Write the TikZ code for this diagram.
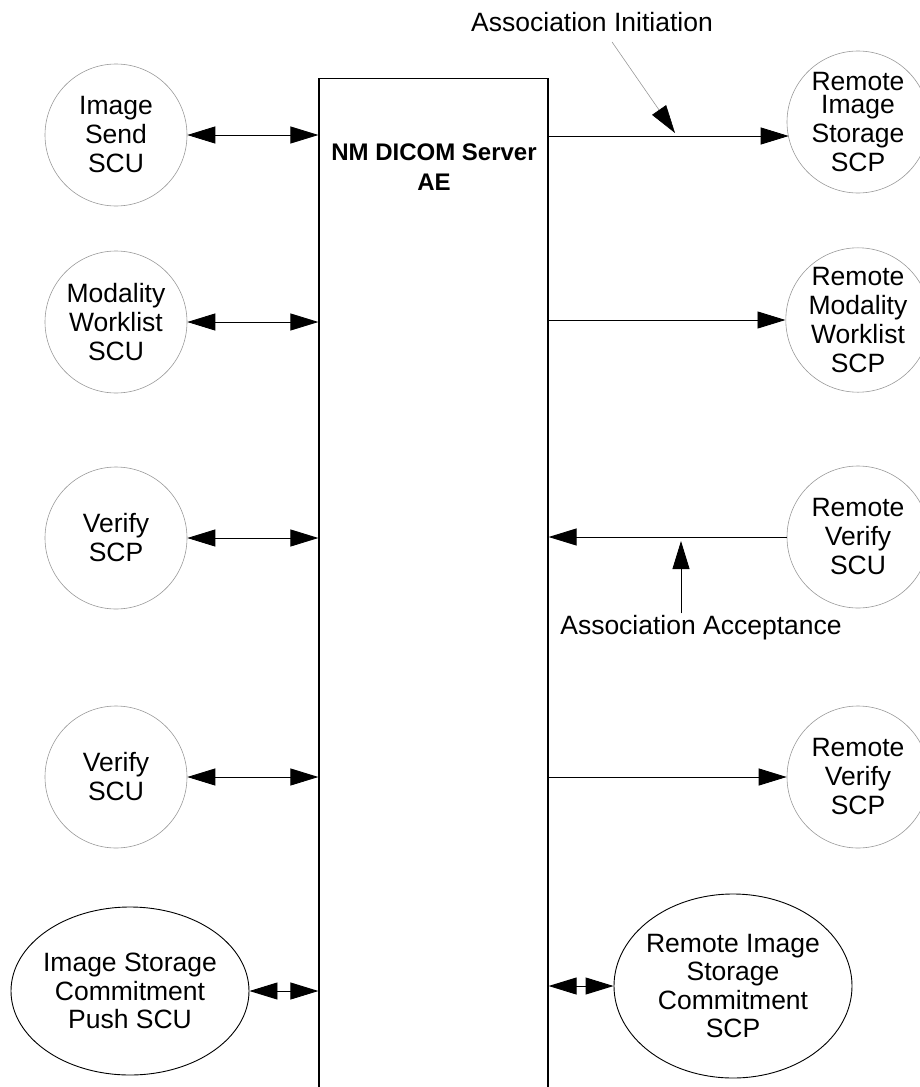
\documentclass[tikz,border=0pt]{standalone}
\usepackage{fontspec}
\setmainfont{Liberation Sans}
\usetikzlibrary{calc, shapes.geometric, arrows.meta}

\begin{document}
\begin{tikzpicture}[x=1pt, y=-1pt]

    \tikzstyle{ae}=[circle, draw=black!40, line width=0.6pt, minimum size=142pt, inner sep=0pt, align=center, font=\fontsize{26.5}{29}\selectfont];
    \tikzstyle{commit}=[ellipse, draw=black, line width=0.9pt, minimum width=238pt, inner sep=-3pt, align=center, font=\fontsize{26.5}{28.5}\selectfont];
    \tikzstyle{one}=[-{Triangle[length=28pt, width=17pt]}, line width=0.9pt];
    \tikzstyle{two}=[{Triangle[length=28pt, width=17pt]}-{Triangle[length=28pt, width=17pt]}, line width=0.9pt];
    \tikzstyle{note}=[inner sep=2pt, font=\fontsize{26.5}{29}\selectfont];

    \useasboundingbox (0, 0) rectangle (920, 1087);
    \clip (0, 0) rectangle (920, 1087);

    \node[draw=black, line width=1.2pt, minimum width=229pt, minimum height=1060pt, anchor=north, inner sep=0pt] (server) at (433.5, 78) {};
    \node[font=\fontsize{24}{30}\selectfont\bfseries, align=center] (aetitle) at (434, 167) {NM DICOM Server\\AE};

    % local side
    \node[ae] (send) at (116, 135) {Image\\Send\\SCU};
    \node[ae] (mwl) at (116, 322) {Modality\\Worklist\\SCU};
    \node[ae] (vscp) at (116, 538) {Verify\\SCP};
    \node[ae] (vscu) at (116, 777) {Verify\\SCU};
    \node[commit, minimum height=168pt] (iscp) at (130, 991) {Image Storage\\Commitment\\Push SCU};

    % remote side
    \node[ae] (ris) at (858, 122) {Remote\\[-6pt]Image\\Storage\\SCP};
    \node[ae] (rmwl) at (858, 320) {Remote\\Modality\\Worklist\\SCP};
    \node[ae] (rvscu) at (858, 537) {Remote\\Verify\\SCU};
    \node[ae] (rvscp) at (858, 777) {Remote\\Verify\\SCP};
    \node[commit, minimum height=184pt] (riscp) at (733, 986) {Remote Image\\Storage\\Commitment\\SCP};

    \draw (send) edge[two] (send -| server.west);
    \draw (mwl) edge[two] (mwl -| server.west);
    \draw (vscp) edge[two] (vscp -| server.west);
    \draw (vscu) edge[two] (vscu -| server.west);
    \draw (iscp) edge[two] (iscp -| server.west);

    \coordinate (risin) at ($(ris.west)+(2, 14)$);
    \draw (risin -| server.east) edge[one] (risin);
    \draw (rmwl -| server.east) edge[one] (rmwl);
    \draw (rvscu) edge[one] (rvscu -| server.east);
    \draw (rvscp -| server.east) edge[one] (rvscp);
    \draw (riscp -| server.east) edge[two] (riscp);

    \node[note] (initlabel) at (592, 22) {Association Initiation};
    \coordinate (init) at (675, 133);
    \draw ($(initlabel.south)+(20, 8)$) edge[draw=black!40, line width=0.6pt, -{Triangle[length=28pt, width=17pt, black]}] (init);

    \node[note] (acclabel) at (701, 628) {Association Acceptance};
    \coordinate (accept) at (681, 541);
    \draw (acclabel.north -| accept) edge[one] (accept);

\end{tikzpicture}
\end{document}
